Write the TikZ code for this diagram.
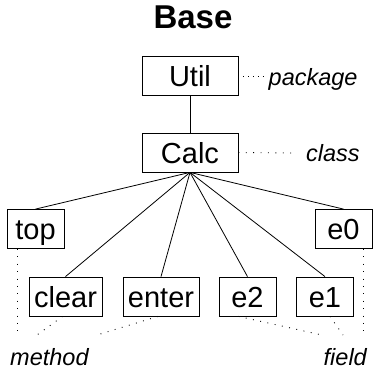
\documentclass[tikz,border=0pt]{standalone}
\usepackage{fontspec}
\setmainfont{Liberation Sans}
\begin{document}
\begin{tikzpicture}[x=1pt,y=-1pt,
  box/.style={draw, line width=0.8pt, inner xsep=5pt, inner ysep=0pt,
    minimum height=39pt, text height=21pt, text depth=0pt,
    font=\fontsize{29}{34}\selectfont},
  wbox/.style={box, minimum width=96pt},
  nbox/.style={box, minimum width=57pt},
  tag/.style={inner sep=0pt, font=\fontsize{23.5}{28}\selectfont\itshape},
  link/.style={line width=0.8pt},
  dots/.style={line width=0.9pt, dash pattern=on 0.9pt off 6.5pt},
  finedots/.style={line width=0.9pt, dash pattern=on 0.9pt off 4pt}]
\useasboundingbox (0,0) rectangle (376,370);

% title
\node[anchor=base, inner sep=0pt, font=\fontsize{33}{40}\selectfont\bfseries] (title) at (193,28) {Base};

% hierarchy
\node[wbox] (util) at (190,76) {Util};
\node[wbox] (calc) at (190,152.5) {Calc};
\node[nbox] (top) at (35.5,229) {top};
\node[nbox] (e0) at (343.5,229) {e0};
\node[nbox] (clear) at (65.5,296.5) {clear};
\node[nbox] (enter) at (161,296.5) {enter};
\node[nbox] (e2) at (247.5,296.5) {e2};
\node[nbox] (e1) at (325,296.5) {e1};

\draw[link] (util) -- (calc);
\foreach \n in {top,clear,enter,e2,e1,e0}
  \draw[link] (calc.south) -- (\n.north);

% kind labels
\node[tag, anchor=base west] (pkg) at (268.5,85) {package};
\node[tag, anchor=base west] (cls) at (306,161.5) {class};
\node[tag, anchor=base west] (meth) at (10,365) {method};
\node[tag, anchor=base east] (fld) at (367,365) {field};

\coordinate (pkgend) at (266,76);
\coordinate (clsend) at (292,153);
\coordinate (m1) at (17,335);
\coordinate (m2) at (37,335);
\coordinate (m3) at (97,335);
\coordinate (f1) at (322,335);
\coordinate (f2) at (343,335);
\coordinate (f3) at (363,335);

\draw[finedots] (util.east) -- (pkgend);
\draw[dots] (calc.east) -- (clsend);
\draw[dots] (top.south -| m1) -- (m1);
\draw[dots] ([xshift=-3pt]clear.south) -- (m2);
\draw[dots] ([xshift=-3pt]enter.south) -- (m3);
\draw[dots] ([xshift=-9pt]e2.south) -- (f1);
\draw[dots] ([xshift=5pt]e1.south) -- (f2);
\draw[dots] (e0.south -| f3) -- (f3);
\end{tikzpicture}
\end{document}
